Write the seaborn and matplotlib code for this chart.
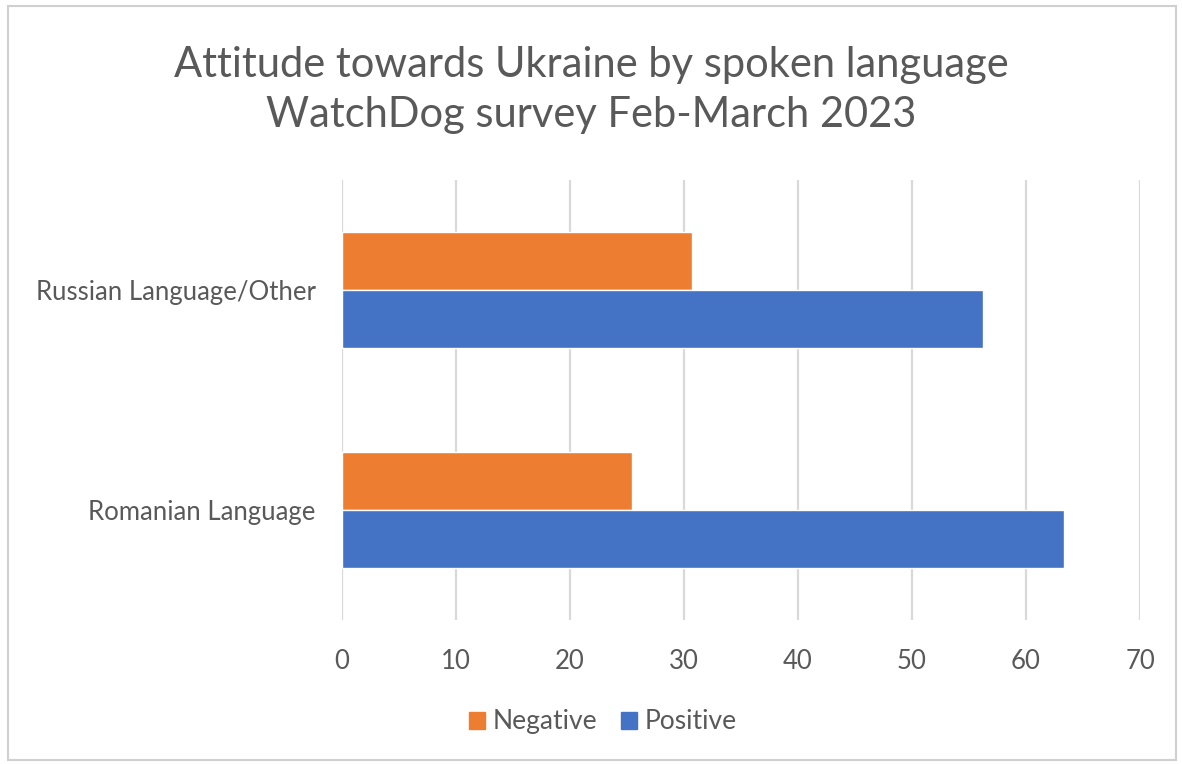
import matplotlib
matplotlib.use("Agg")
import matplotlib.pyplot as plt
import seaborn as sns
import pandas as pd
from matplotlib.patches import Rectangle

# Survey results (% of respondents)
languages = ["Russian Language/Other", "Romanian Language"]
negative = [30.7, 25.4]
positive = [56.2, 63.3]
attitudes = ["Negative", "Positive"]
colors = ["#ED7D31", "#4472C4"]
x_ticks = [0, 10, 20, 30, 40, 50, 60, 70]

df = pd.DataFrame({
    "language": languages * 2,
    "attitude": [attitudes[0]] * len(languages) + [attitudes[1]] * len(languages),
    "value": negative + positive,
})

sns.set_theme(style="white")
plt.rcParams["font.family"] = ["Lato", "DejaVu Sans"]
text_color = "#595959"

fig = plt.figure(figsize=(11.82, 7.64), dpi=100)
ax = fig.add_axes([0.2893, 0.1885, 0.6752, 0.5759])

sns.barplot(data=df, y="language", x="value", hue="attitude",
            order=languages, hue_order=attitudes, palette=colors,
            orient="h", width=0.525, saturation=1, ax=ax, zorder=3)

ax.set_xlim(0, 70)
ax.set_ylim(1.5, -0.5)
ax.set_xticks(x_ticks)
ax.set_xticklabels([str(t) for t in x_ticks])
ax.xaxis.grid(True, color="#d9d9d9", linewidth=1.6, zorder=0)
ax.yaxis.grid(False)
for s in ax.spines.values():
    s.set_visible(False)
ax.set_xlabel("")
ax.set_ylabel("")
ax.tick_params(axis="x", length=0, pad=21, labelsize=18.5, labelcolor=text_color)
ax.tick_params(axis="y", length=0, pad=19, labelsize=18.5, labelcolor=text_color)

ax.legend_.remove()
handles = [Rectangle((0, 0), 1, 1, color=c) for c in colors]
fig.legend(handles, attitudes, loc="center", bbox_to_anchor=(0.51, 0.055),
           ncol=2, frameon=False, fontsize=19, labelcolor=text_color,
           handlelength=0.6, handleheight=0.6, handletextpad=0.3,
           columnspacing=0.9)

fig.text(0.5, 0.882, "Attitude towards Ukraine by spoken language\nWatchDog survey Feb-March 2023",
         ha="center", va="center", fontsize=30, color=text_color, linespacing=1.4)

# light frame around the chart
fig.patches.append(Rectangle((8 / 1182, 4 / 764), 1168 / 1182, 754 / 764,
                             transform=fig.transFigure, fill=False,
                             edgecolor="#d0d0d0", linewidth=1.5))

fig.savefig("out.png", dpi=100, facecolor="white")
